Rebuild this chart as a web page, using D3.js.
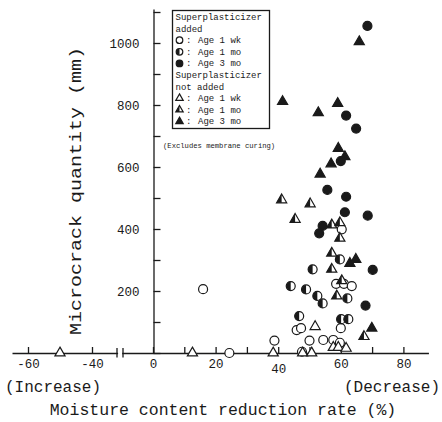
<!DOCTYPE html>
<html><head><meta charset="utf-8">
<script src="https://cdn.jsdelivr.net/npm/d3@7"></script>
<style>body{margin:0;background:#fff}svg{display:block}text{font-family:"Liberation Mono","DejaVu Sans Mono",monospace;fill:#1a1a1a}</style>
</head><body><div id="chart"></div>
<script>
// Superplasticizer added
const spAdded1wk = [[16.0,206],[24.4,0],[38.8,40],[47.6,4],[50.0,40],[54.4,42],[57.6,42],[59.7,33],[45.9,74],[47.3,80],[60.0,80],[58.5,223],[61.0,223],[63.5,216],[60.3,399]];
const spAdded1mo = [[44.0,216],[48.9,205],[51.0,270],[52.5,184],[54.2,160],[59.7,302],[62.1,176],[46.7,119],[60.1,109],[62.4,109]];
const spAdded3mo = [[68.5,1055],[61.7,766],[64.9,724],[60.0,619],[55.7,526],[61.7,504],[61.3,454],[68.6,443],[54.2,410],[53.1,386],[70.2,268],[67.9,153]];
// Superplasticizer not added
const spNot1wk = [[-50,0],[12.6,0],[38.4,0],[47.8,0],[50.7,0],[51.8,85],[57.6,18],[59.2,18],[61.7,15]];
const spNot1mo = [[41.1,494],[45.4,431],[50.2,481],[57.1,413],[59.7,420],[59.7,370],[57.1,322],[57.1,270],[60.3,233],[58.7,184],[67.4,53]];
const spNot3mo = [[65.9,1004],[41.4,811],[52.8,775],[59.0,805],[59.2,660],[61.3,633],[56.9,610],[53.4,577],[62.9,289],[64.8,302],[69.9,80]];

const xTicksRight = [0,10,20,30,40,50,60,70,80];
const xLabelsRight = [0,20,40,60,80];
const xTicksLeft = [-60,-40];
const yTicks = [0,100,200,300,400,500,600,700,800,900,1000,1100];
const yLabels = [200,400,600,800,1000];

const legendItems = [
  {text:"Superplasticizer"},{text:"added"},
  {shape:"circle",fill:"open",text:"Age 1 wk"},
  {shape:"circle",fill:"half",text:"Age 1 mo"},
  {shape:"circle",fill:"full",text:"Age 3 mo"},
  {text:"Superplasticizer"},{text:"not added"},
  {shape:"triangle",fill:"open",text:"Age 1 wk"},
  {shape:"triangle",fill:"half",text:"Age 1 mo"},
  {shape:"triangle",fill:"full",text:"Age 3 mo"}
];

const W=442,H=422;
const svg=d3.select("#chart").append("svg").attr("width",W).attr("height",H);
svg.append("defs").append("clipPath").attr("id","lefthalf")
  .append("rect").attr("x",-20).attr("y",-20).attr("width",20).attr("height",40);

const xR=d3.scaleLinear().domain([-10,88]).range([153-31.3,153+88*3.13]);
const xL=d3.scaleLinear().domain([-65,-32]).range([28-16,28+28*3.2]);
const y=d3.scaleLinear().domain([0,1110]).range([353,353-1110*0.31]);
const xPos=v=>v<-20?xL(v):xR(v);

const ink="#1a1a1a";
// right x axis
const axR=svg.append("g").attr("transform","translate(0,353)")
  .call(d3.axisBottom(xR).tickValues(xTicksRight).tickSizeInner(-6).tickSizeOuter(0).tickPadding(6)
  .tickFormat(d=>xLabelsRight.includes(d)?d:""));
const axL=svg.append("g").attr("transform","translate(0,353)")
  .call(d3.axisBottom(xL).tickValues(xTicksLeft).tickSizeInner(-6).tickSizeOuter(0).tickPadding(6)
  .tickFormat(d=>"\u2212"+Math.abs(d)).tickFormat(d=>"-"+Math.abs(d)));
const axY=svg.append("g").attr("transform","translate(153.5,0)")
  .call(d3.axisLeft(y).tickValues(yTicks).tickSizeInner(-7).tickSizeOuter(0).tickPadding(14)
  .tickFormat(d=>yLabels.includes(d)?d:""));
[axR,axL,axY].forEach(g=>{
  g.selectAll("path,line").attr("stroke",ink).attr("stroke-width",1.3);
  g.selectAll("text").style("font-size","12.5px").attr("fill",ink).style("font-family","'Liberation Mono',monospace");
});
axR.selectAll(".tick").filter(d=>d===40).select("text").attr("y",11);
// break marks
[117,123].forEach(bx=>svg.append("line").attr("x1",bx).attr("x2",bx).attr("y1",348).attr("y2",357.5).attr("stroke",ink).attr("stroke-width",1.3));

// axis titles
svg.append("text").attr("x",5).attr("y",392).style("font-size","16px").text("(Increase)");
svg.append("text").attr("x",440).attr("y",392).attr("text-anchor","end").style("font-size","16px").text("(Decrease)");
svg.append("text").attr("x",223).attr("y",415).attr("text-anchor","middle").style("font-size","16.5px").text("Moisture content reduction rate (%)");
svg.append("text").attr("transform","translate(81,191) rotate(-90)").attr("text-anchor","middle")
  .attr("textLength",288).attr("lengthAdjust","spacingAndGlyphs").style("font-size","17px").text("Microcrack quantity (mm)");

// markers
function marker(g,shape,fill,s){
  let p;
  if(shape==="circle"){
    p=d3.symbol(d3.symbolCircle,Math.PI*s*s)();
  } else {
    const side=s*2.25,h=side*Math.sqrt(3)/2;
    p=`M0,${-2*h/3}L${side/2},${h/3}L${-side/2},${h/3}Z`;
  }
  g.append("path").attr("d",p).attr("fill",fill==="full"?ink:"#fff").attr("stroke",ink).attr("stroke-width",1.2);
  if(fill==="half") g.append("path").attr("d",p).attr("fill",ink).attr("clip-path","url(#lefthalf)");
}
const series=[
  [spAdded1wk,"circle","open"],[spAdded1mo,"circle","half"],[spAdded3mo,"circle","full"],
  [spNot1wk,"triangle","open"],[spNot1mo,"triangle","half"],[spNot3mo,"triangle","full"]
];
series.forEach(([data,shape,fill])=>{
  data.forEach(d=>{
    const g=svg.append("g").attr("transform",`translate(${xPos(d[0])},${y(d[1])})`);
    marker(g,shape,fill,4.5);
  });
});

// legend
const lg=svg.append("g");
lg.append("rect").attr("x",172.5).attr("y",10.5).attr("width",97).attr("height",118).attr("fill","#fff").attr("stroke",ink).attr("stroke-width",1.3);
legendItems.forEach((it,i)=>{
  const cy=17+i*11.6;
  if(it.shape){
    const g=lg.append("g").attr("transform",`translate(179.5,${cy})`);
    marker(g,it.shape,it.fill,3.3);
    lg.append("text").attr("x",186).attr("y",cy+3).style("font-size","9px").text(":");
    lg.append("text").attr("x",198).attr("y",cy+3).style("font-size","9px").text(it.text);
  } else {
    lg.append("text").attr("x",175.5).attr("y",cy+3).style("font-size","9px").text(it.text);
  }
});
svg.append("text").attr("x",163).attr("y",148).style("font-size","7.2px").text("(Excludes membrane curing)");
</script></body></html>
